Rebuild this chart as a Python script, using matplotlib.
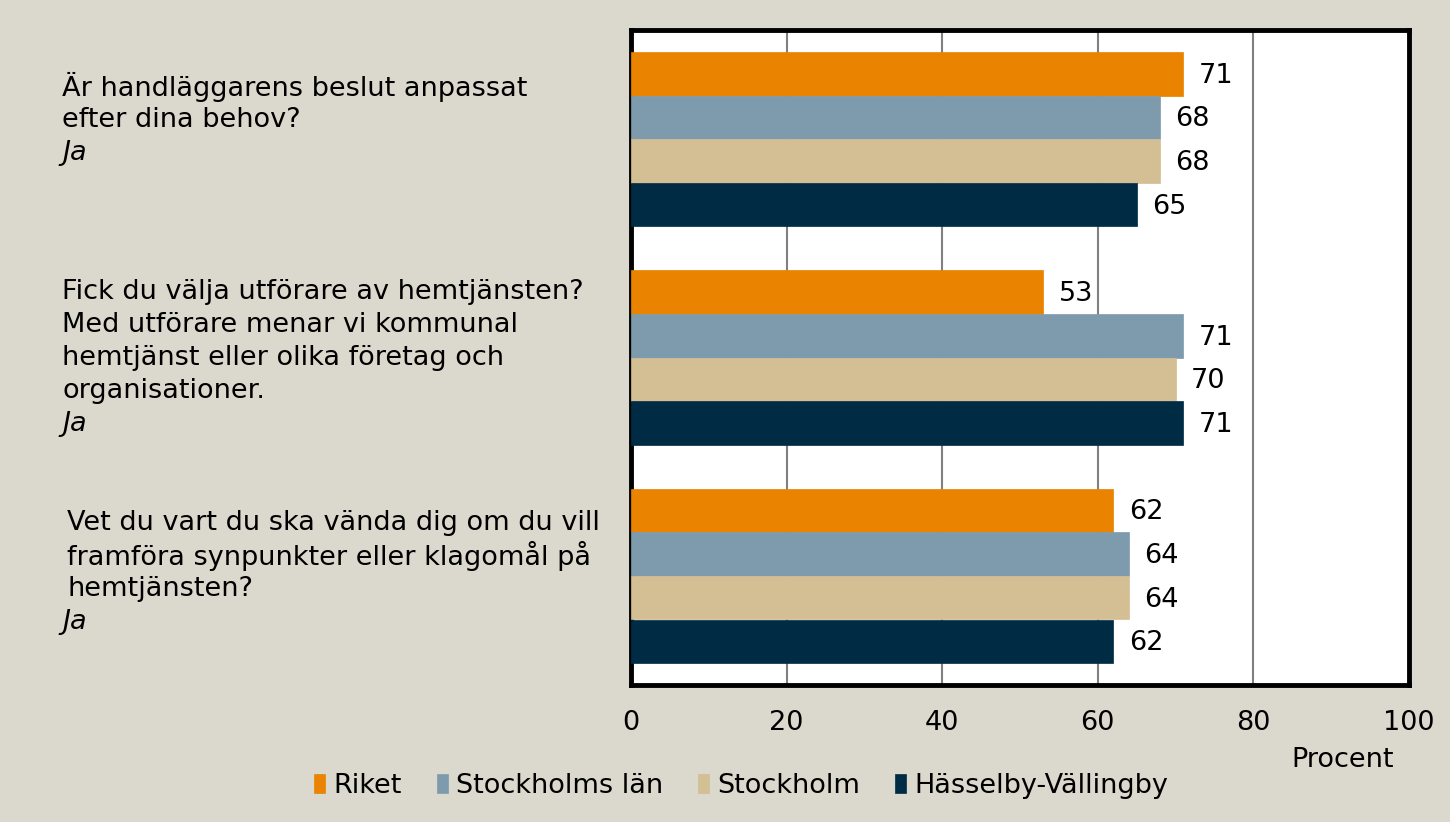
import matplotlib
matplotlib.use("Agg")
import matplotlib.pyplot as plt
import numpy as np

plt.rcParams['font.family'] = ['DejaVu Sans']

questions = [
    "Är handläggarens beslut anpassat\nefter dina behov?",
    "Fick du välja utförare av hemtjänsten?\nMed utförare menar vi kommunal\nhemtjänst eller olika företag och\norganisationer.",
    "Vet du vart du ska vända dig om du vill\nframföra synpunkter eller klagomål på\nhemtjänsten?",
]
answer = "Ja"
series = ["Riket", "Stockholms län", "Stockholm", "Hässelby-Vällingby"]
values = {
    "Riket": [71, 53, 62],
    "Stockholms län": [68, 71, 64],
    "Stockholm": [68, 70, 64],
    "Hässelby-Vällingby": [65, 71, 62],
}
colors = ["#E98300", "#7E9BAE", "#D4BF95", "#002B45"]
xticks = [0, 20, 40, 60, 80, 100]
xlabel = "Procent"

W, H = 1450, 822
fig = plt.figure(figsize=(W/100, H/100), dpi=100)
bg = "#DBD9CD"
fig.patch.set_facecolor(bg)
ax = fig.add_axes([631/W, 1-685/H, (1409-631)/W, (685-30)/H])
ax.set_facecolor("white")

n_groups = len(questions)
centers = 2.5 + 5*np.arange(n_groups)
offsets = [-1.5, -0.5, 0.5, 1.5]
fs = 19.5
for s, (name, col, off) in enumerate(zip(series, colors, offsets)):
    ys = centers + off
    vals = values[name]
    ax.barh(ys, vals, height=1.0, color=col, edgecolor=col, linewidth=0.5, label=name, zorder=3)
    for y, v in zip(ys, vals):
        ax.annotate(f"{v}", (v, y), xytext=(11, -1.5), textcoords="offset points",
                    ha="left", va="center", fontsize=fs, color="black", zorder=4)

ax.set_ylim(15, 0)
ax.set_xlim(0, 100)
ax.set_xticks(xticks)
ax.set_xticklabels([str(t) for t in xticks], fontsize=fs)
ax.tick_params(axis="x", length=0, pad=18)
ax.set_yticks([])
ax.grid(axis="x", color="#808080", linewidth=1.5, zorder=1)
ax.set_axisbelow(True)
for sp in ax.spines.values():
    sp.set_linewidth(3.5)
    sp.set_color("black")

fig.text(1343/W, 1-760/H, xlabel, ha="center", va="center", fontsize=fs)

label_centers_px = [120, 358, 572]
line_px = 33
label_x = [62, 62, 67]
for q, cy, lx in zip(questions, label_centers_px, label_x):
    lines = q.split("\n")
    nlines = len(lines) + 1
    top = cy - (nlines-1)*line_px/2
    for i, ln in enumerate(lines):
        fig.text(lx/W, 1-(top+i*line_px)/H, ln, ha="left", va="center", fontsize=fs)
    fig.text(62/W, 1-(top+len(lines)*line_px)/H, answer, ha="left", va="center",
             fontsize=fs, style="italic")

leg = fig.legend(loc="center", bbox_to_anchor=(741/W, 1-786/H), ncol=4, frameon=False,
                 fontsize=fs, handlelength=0.4, handleheight=0.7, handletextpad=0.3,
                 columnspacing=1.3)

fig.savefig("out.png", dpi=100, facecolor=bg)
